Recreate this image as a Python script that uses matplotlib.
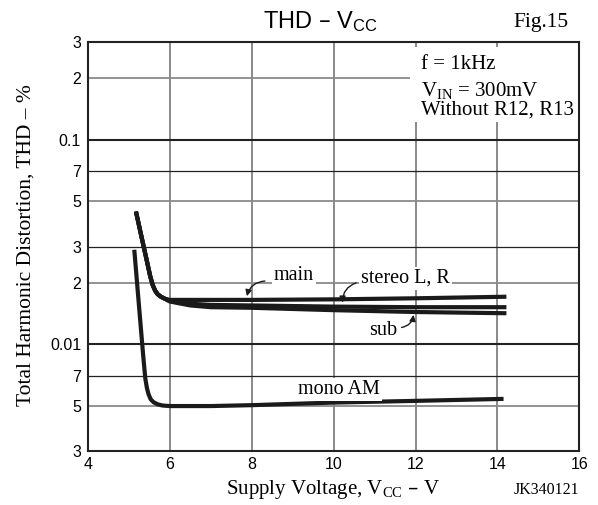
import matplotlib
matplotlib.use("Agg")
import matplotlib.pyplot as plt
from matplotlib.patches import Rectangle

plt.rcParams['mathtext.default'] = 'regular'
SANS = 'Liberation Sans'
SERIF = 'Liberation Serif'

# ---- data ----
vcc_main = [5.17, 5.30, 5.42, 5.52, 5.58, 5.64, 5.70, 5.78, 5.88, 6.0, 7.0, 8.0, 10.0, 12.0, 14.22]
thd_main = [0.0446, 0.0340, 0.0265, 0.0215, 0.0195, 0.0183, 0.0176, 0.0171, 0.0167, 0.0165, 0.0165, 0.0165, 0.0166, 0.0168, 0.0171]

vcc_stereo = [5.17, 5.30, 5.42, 5.52, 5.58, 5.64, 5.70, 5.78, 5.88, 6.0, 6.5, 7.0, 8.0, 10.0, 12.0, 14.22]
thd_stereo = [0.0446, 0.0340, 0.0265, 0.0215, 0.0195, 0.0183, 0.0176, 0.0171, 0.0167, 0.0163, 0.0158, 0.0156, 0.0155, 0.0153, 0.0152, 0.0152]

vcc_sub = [5.17, 5.30, 5.42, 5.52, 5.58, 5.64, 5.70, 5.78, 5.88, 6.0, 6.5, 7.0, 8.0, 10.0, 12.0, 14.22]
thd_sub = [0.0446, 0.0340, 0.0265, 0.0215, 0.0195, 0.0183, 0.0176, 0.0171, 0.0167, 0.0162, 0.0155, 0.0152, 0.0151, 0.0147, 0.0144, 0.0142]

vcc_mono = [5.13, 5.25, 5.35, 5.40, 5.44, 5.48, 5.53, 5.60, 5.70, 5.82, 6.0, 7.0, 8.0, 10.0, 12.0, 14.15]
thd_mono = [0.0290, 0.0150, 0.0087, 0.0068, 0.0061, 0.0057, 0.0054, 0.00522, 0.0051, 0.00503, 0.0050, 0.0050, 0.00505, 0.0052, 0.0053, 0.00542]

x_ticks = [4, 6, 8, 10, 12, 14, 16]
y_ticks = [0.003, 0.005, 0.007, 0.01, 0.02, 0.03, 0.05, 0.07, 0.1, 0.2, 0.3]
y_tick_labels = ['3', '5', '7', '0.01', '2', '3', '5', '7', '0.1', '2', '3']
y_black_decades = [0.01, 0.1]
y_black_thin = [0.007, 0.03, 0.07]
y_gray = [0.005, 0.02, 0.05, 0.2]

# ---- figure ----
fig = plt.figure(figsize=(5.98, 5.05), dpi=100)
ax = fig.add_axes([0.1472, 0.106, 0.8215, 0.8108])
ax.set_yscale('log')
ax.set_xlim(4, 16)
ax.set_ylim(0.003, 0.3)

# grid lines
for x in x_ticks[1:-1]:
    ax.axvline(x, color='#8a8a8a', lw=1.4, zorder=1)
for y in y_black_decades:
    ax.axhline(y, color='#222222', lw=1.5, zorder=1)
for y in y_black_thin:
    ax.axhline(y, color='#222222', lw=0.9, zorder=1)
for y in y_gray:
    ax.axhline(y, color='#8a8a8a', lw=1.3, zorder=1)

# white box behind the conditions text
ax.add_patch(Rectangle((0.655, 0.805), 0.345, 0.183, transform=ax.transAxes,
                       facecolor='white', edgecolor='none', zorder=2))

# curves
for xs, ys in [(vcc_main, thd_main), (vcc_stereo, thd_stereo), (vcc_sub, thd_sub), (vcc_mono, thd_mono)]:
    ax.plot(xs, ys, color='#1a1a1a', lw=3.0, solid_capstyle='butt', solid_joinstyle='round', zorder=3)

# ticks
ax.set_xticks(x_ticks)
ax.set_xticklabels([str(v) for v in x_ticks], fontfamily=SANS, fontsize=11.5)
ax.set_yticks(y_ticks)
ax.set_yticklabels(y_tick_labels, fontfamily=SANS, fontsize=11.5)
ax.yaxis.set_minor_locator(matplotlib.ticker.NullLocator())
ax.tick_params(axis='both', length=0)
ax.tick_params(axis='y', pad=5)
ax.tick_params(axis='x', pad=4)
for s in ax.spines.values():
    s.set_color('#222222')
    s.set_linewidth(1.5)
    s.set_zorder(5)

# curve labels
bb = dict(facecolor='white', edgecolor='none', pad=1.5)
ax.text(9.03, 0.0216, 'main', fontfamily=SERIF, fontsize=14.5, ha='center', va='center', bbox=bb, zorder=4)
ax.text(11.76, 0.0211, 'stereo L, R', fontfamily=SERIF, fontsize=14.5, ha='center', va='center', bbox=bb, zorder=4)
ax.text(11.22, 0.01165, 'sub', fontfamily=SERIF, fontsize=14.5, ha='center', va='center', bbox=bb, zorder=4)
ax.text(10.14, 0.00604, 'mono AM', fontfamily=SERIF, fontsize=14.5, ha='center', va='center', bbox=bb, zorder=4)

ap = dict(arrowstyle='-|>', color='#1a1a1a', lw=1.0, mutation_scale=9, shrinkA=0, shrinkB=0)
ax.annotate('', xy=(7.88, 0.0172), xytext=(8.32, 0.0204),
            arrowprops=dict(ap, connectionstyle='arc3,rad=0.35'), zorder=4)
ax.annotate('', xy=(10.22, 0.0160), xytext=(10.55, 0.0200),
            arrowprops=dict(ap, connectionstyle='arc3,rad=0.35'), zorder=4)
ax.annotate('', xy=(11.95, 0.01395), xytext=(11.66, 0.0121),
            arrowprops=dict(ap, connectionstyle='arc3,rad=0.35'), zorder=4)

# condition text
ax.text(0.678, 0.945, 'f = 1kHz', transform=ax.transAxes, fontfamily=SERIF, fontsize=15, ha='left', va='center', zorder=4)
ax.text(0.678, 0.882, r'V$_{IN}$ = 300mV', transform=ax.transAxes, fontfamily=SERIF, fontsize=15, ha='left', va='center', zorder=4)
ax.text(0.678, 0.835, 'Without R12, R13', transform=ax.transAxes, fontfamily=SERIF, fontsize=15, ha='left', va='center', zorder=4)

# titles and axis labels
fig.text(0.535, 0.958, r'THD – V$_{CC}$', fontfamily=SANS, fontsize=17, ha='center', va='center')
fig.text(0.905, 0.955, 'Fig.15', fontfamily=SERIF, fontsize=15.5, ha='center', va='center')
fig.text(0.044, 0.515, 'Total Harmonic Distortion, THD – %', fontfamily=SERIF, fontsize=15.5,
         rotation=90, ha='center', va='center')
fig.text(0.557, 0.031, r'Supply Voltage, V$_{CC}$ – V', fontfamily=SERIF, fontsize=15, ha='center', va='center')
fig.text(0.913, 0.030, 'JK340121', fontfamily=SERIF, fontsize=11.5, ha='center', va='center')

fig.savefig('out.png', dpi=100, facecolor='white')
